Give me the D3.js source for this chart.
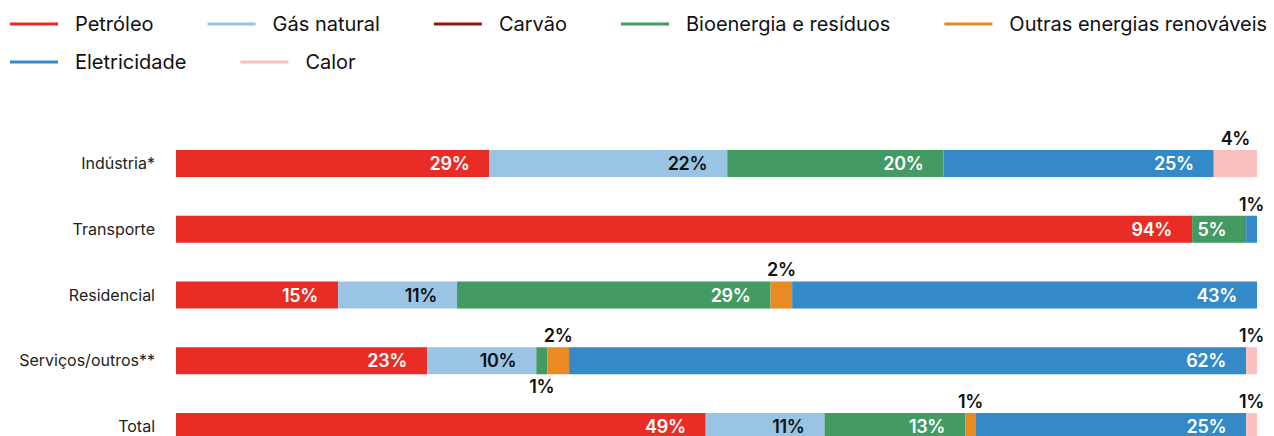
<!DOCTYPE html>
<html>
<head>
<meta charset="utf-8">
<script src="https://cdn.jsdelivr.net/npm/d3@7"></script>
<style>
	body { margin: 0; background: #fff; }
	svg { display: block; font-family: Inter, Roboto, "Liberation Sans", sans-serif; }
</style>
</head>
<body>
<svg id="chart" width="1274" height="436"></svg>
<script>
"use strict";

const categories = ["Indústria*", "Transporte", "Residencial", "Serviços/outros**", "Total"];
const seriesNames = ["Petróleo", "Gás natural", "Carvão", "Bioenergia e resíduos", "Outras energias renováveis", "Eletricidade", "Calor"];
const seriesColors = ["#e92d26", "#9ac4e4", "#8b1c12", "#439a62", "#ea8a25", "#3489c8", "#f9c0bd"];

// % por setor, na ordem das categorias
const petroleo         = [29, 94, 15, 23, 49];
const gasNatural       = [22,  0, 11, 10, 11];
const carvao           = [ 0,  0,  0,  0,  0];
const bioenergia       = [20,  5, 29,  1, 13];
const outrasRenovaveis = [ 0,  0,  2,  2,  1];
const eletricidade     = [25,  1, 43, 62, 25];
const calor            = [ 4,  0,  0,  1,  1];

const seriesValues = [petroleo, gasNatural, carvao, bioenergia, outrasRenovaveis, eletricidade, calor];

const W = 1274, H = 436;
const svg = d3.select("#chart");

// tabela para o d3.stack
const table = categories.map((cat, i) => {
	let row = { cat: cat };
	seriesNames.forEach((s, k) => { row[s] = seriesValues[k][i]; });
	return row;
});

const stacked = d3.stack().keys(seriesNames).offset(d3.stackOffsetExpand)(table);

const x = d3.scaleLinear().domain([0, 1]).range([176, 1257]);
const y = d3.scaleBand().domain(categories).range([130.6, 459.4])
	.paddingInner(0.589).paddingOuter(0.2945);
const color = d3.scaleOrdinal().domain(seriesNames).range(seriesColors);

// legenda (fluxo com quebra de linha)
const legend = svg.append("g").attr("class", "legend");
let lx = 10, ly = 24;
seriesNames.forEach((name) => {
	let g = legend.append("g");
	let t = g.append("text")
		.attr("y", 0).attr("dy", "0.35em")
		.attr("font-size", 20).attr("fill", "#111")
		.text(name);
	let tw = t.node().getComputedTextLength();
	if (lx + 65 + tw > W + 6) { lx = 10; ly += 38; }
	g.attr("transform", `translate(${lx},${ly})`);
	t.attr("x", 65);
	g.append("line")
		.attr("x1", 0).attr("x2", 48).attr("y1", 0).attr("y2", 0)
		.attr("stroke", color(name)).attr("stroke-width", 3);
	lx += 65 + tw + 54;
});

// rótulos das categorias
svg.append("g").selectAll("text")
	.data(categories).enter().append("text")
	.attr("x", 155)
	.attr("y", d => y(d) + y.bandwidth() / 2)
	.attr("dy", "0.35em")
	.attr("text-anchor", "end")
	.attr("font-size", 16).attr("fill", "#222")
	.text(d => d);

// barras
svg.append("g").selectAll("g")
	.data(stacked).enter().append("g")
	.attr("fill", d => color(d.key))
	.selectAll("rect")
	.data(d => d).enter().append("rect")
	.attr("x", d => x(d[0]))
	.attr("y", d => y(d.data.cat))
	.attr("width", d => x(d[1]) - x(d[0]))
	.attr("height", y.bandwidth());

// rótulos de valor
const labels = [];
categories.forEach((cat, i) => {
	let top = y(cat), bot = top + y.bandwidth(), lastAbove = null;
	for (let k = seriesNames.length - 1; k >= 0; k--) {
		let v = seriesValues[k][i];
		if (!v) continue;
		let seg = stacked[k][i], x0 = x(seg[0]), x1 = x(seg[1]);
		if (v >= 5) {
			labels.push({ x: x1 - 20, y: top + y.bandwidth() / 2 + 6.5, anchor: "end",
				fill: seriesNames[k] === "Gás natural" ? "#111" : "#fff", text: v + "%" });
		} else {
			let cx = (x0 + x1) / 2;
			if (lastAbove !== null && Math.abs(lastAbove - cx) < 30) {
				labels.push({ x: cx, y: bot + 19, anchor: "middle", fill: "#111", text: v + "%" });
			} else {
				labels.push({ x: cx, y: top - 5, anchor: "middle", fill: "#111", text: v + "%" });
				lastAbove = cx;
			}
		}
	}
});

svg.append("g").selectAll("text")
	.data(labels).enter().append("text")
	.attr("x", d => d.x).attr("y", d => d.y)
	.attr("text-anchor", d => d.anchor)
	.attr("font-size", 18).attr("font-weight", 600)
	.attr("letter-spacing", -0.3)
	.attr("fill", d => d.fill)
	.text(d => d.text);
</script>
</body>
</html>
